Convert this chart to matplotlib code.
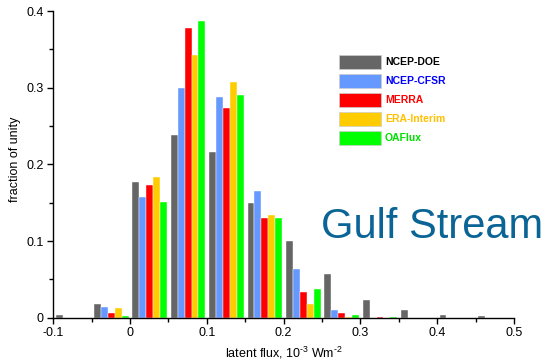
import numpy as np
import matplotlib
matplotlib.use("Agg")
import matplotlib.pyplot as plt
from matplotlib.patches import Rectangle

plt.rcParams["font.family"] = ["Liberation Sans", "DejaVu Sans"]
plt.rcParams["mathtext.fontset"] = "custom"
plt.rcParams["mathtext.rm"] = "Liberation Sans"
plt.rcParams["axes.unicode_minus"] = False

# bin left edges (width 0.05)
bin_starts = [-0.1, -0.05, 0.0, 0.05, 0.1, 0.15, 0.2, 0.25, 0.3, 0.35, 0.4, 0.45]

ncep_doe = [0.004, 0.018, 0.177, 0.238, 0.216, 0.150, 0.100, 0.057, 0.023, 0.010, 0.0035, 0.002]
ncep_cfsr = [0.0, 0.014, 0.158, 0.300, 0.288, 0.165, 0.064, 0.010, 0.0, 0.0, 0.0, 0.0]
merra = [0.0, 0.006, 0.173, 0.378, 0.273, 0.130, 0.033, 0.006, 0.0013, 0.0, 0.0, 0.0]
era_interim = [0.0, 0.0125, 0.1835, 0.343, 0.307, 0.134, 0.018, 0.001, 0.0, 0.0, 0.0, 0.0]
oaflux = [0.0, 0.002, 0.151, 0.387, 0.290, 0.130, 0.038, 0.003, 0.001, 0.0, 0.0, 0.0]

names = ["NCEP-DOE", "NCEP-CFSR", "MERRA", "ERA-Interim", "OAFlux"]
series = [ncep_doe, ncep_cfsr, merra, era_interim, oaflux]
colors = ["#666666", "#6699ff", "#ff0000", "#ffcc00", "#00ff00"]
text_colors = ["#000000", "#0000ff", "#ff0000", "#ffc000", "#00e000"]

fig = plt.figure(figsize=(5.45, 3.61), dpi=100)
ax = fig.add_axes([0.0978, 0.12, 0.8453, 0.8495])

bw = 0.009
starts = np.array(bin_starts)
for i, (vals, c) in enumerate(zip(series, colors)):
    x = starts + 0.003 + bw / 2 + i * bw
    ax.bar(x, vals, width=bw, color=c, edgecolor="white", linewidth=0.3)

ax.set_xlim(-0.1, 0.5)
ax.set_ylim(0, 0.4)
ax.set_xticks(np.arange(-0.1, 0.51, 0.1))
ax.set_xticklabels(["-0.1", "0", "0.1", "0.2", "0.3", "0.4", "0.5"])
ax.set_xticks(np.arange(-0.05, 0.5, 0.1), minor=True)
ax.set_yticks([0, 0.1, 0.2, 0.3, 0.4])
ax.set_yticklabels(["0", "0.1", "0.2", "0.3", "0.4"])
ax.set_yticks([0.05, 0.15, 0.25, 0.35], minor=True)
ax.tick_params(which="major", direction="out", length=4, width=1, labelsize=9, pad=3)
ax.tick_params(which="minor", direction="out", length=3, width=1)
for s in ["top", "right"]:
    ax.spines[s].set_visible(False)
for s in ["left", "bottom"]:
    ax.spines[s].set_linewidth(1)

ax.set_xlabel("latent flux, 10$^{\u2010" + "3}$ Wm$^{\u2010" + "2}$", fontsize=9, labelpad=4)
ax.set_ylabel("fraction of unity", fontsize=9)
ax.yaxis.set_label_coords(-0.071, 0.515)

# legend drawn by hand
for i, (n, c, tc) in enumerate(zip(names, colors, text_colors)):
    y_top = 54.7 + i * 19
    fig.patches.append(Rectangle((339 / 545, 1 - (y_top + 14.5) / 361), 41.5 / 545, 14.5 / 361,
                                 transform=fig.transFigure, facecolor=c,
                                 edgecolor="#cccccc", linewidth=0.5))
    fig.text(385 / 545, 1 - (y_top + 7.5) / 361, n, color=tc, fontsize=7.5,
             fontweight="bold", va="center", ha="left")

fig.text(321 / 545, 1 - 238 / 361, "Gulf Stream", color="#0a6496", fontsize=30,
         ha="left", va="baseline")

fig.savefig("out.png", dpi=100)
